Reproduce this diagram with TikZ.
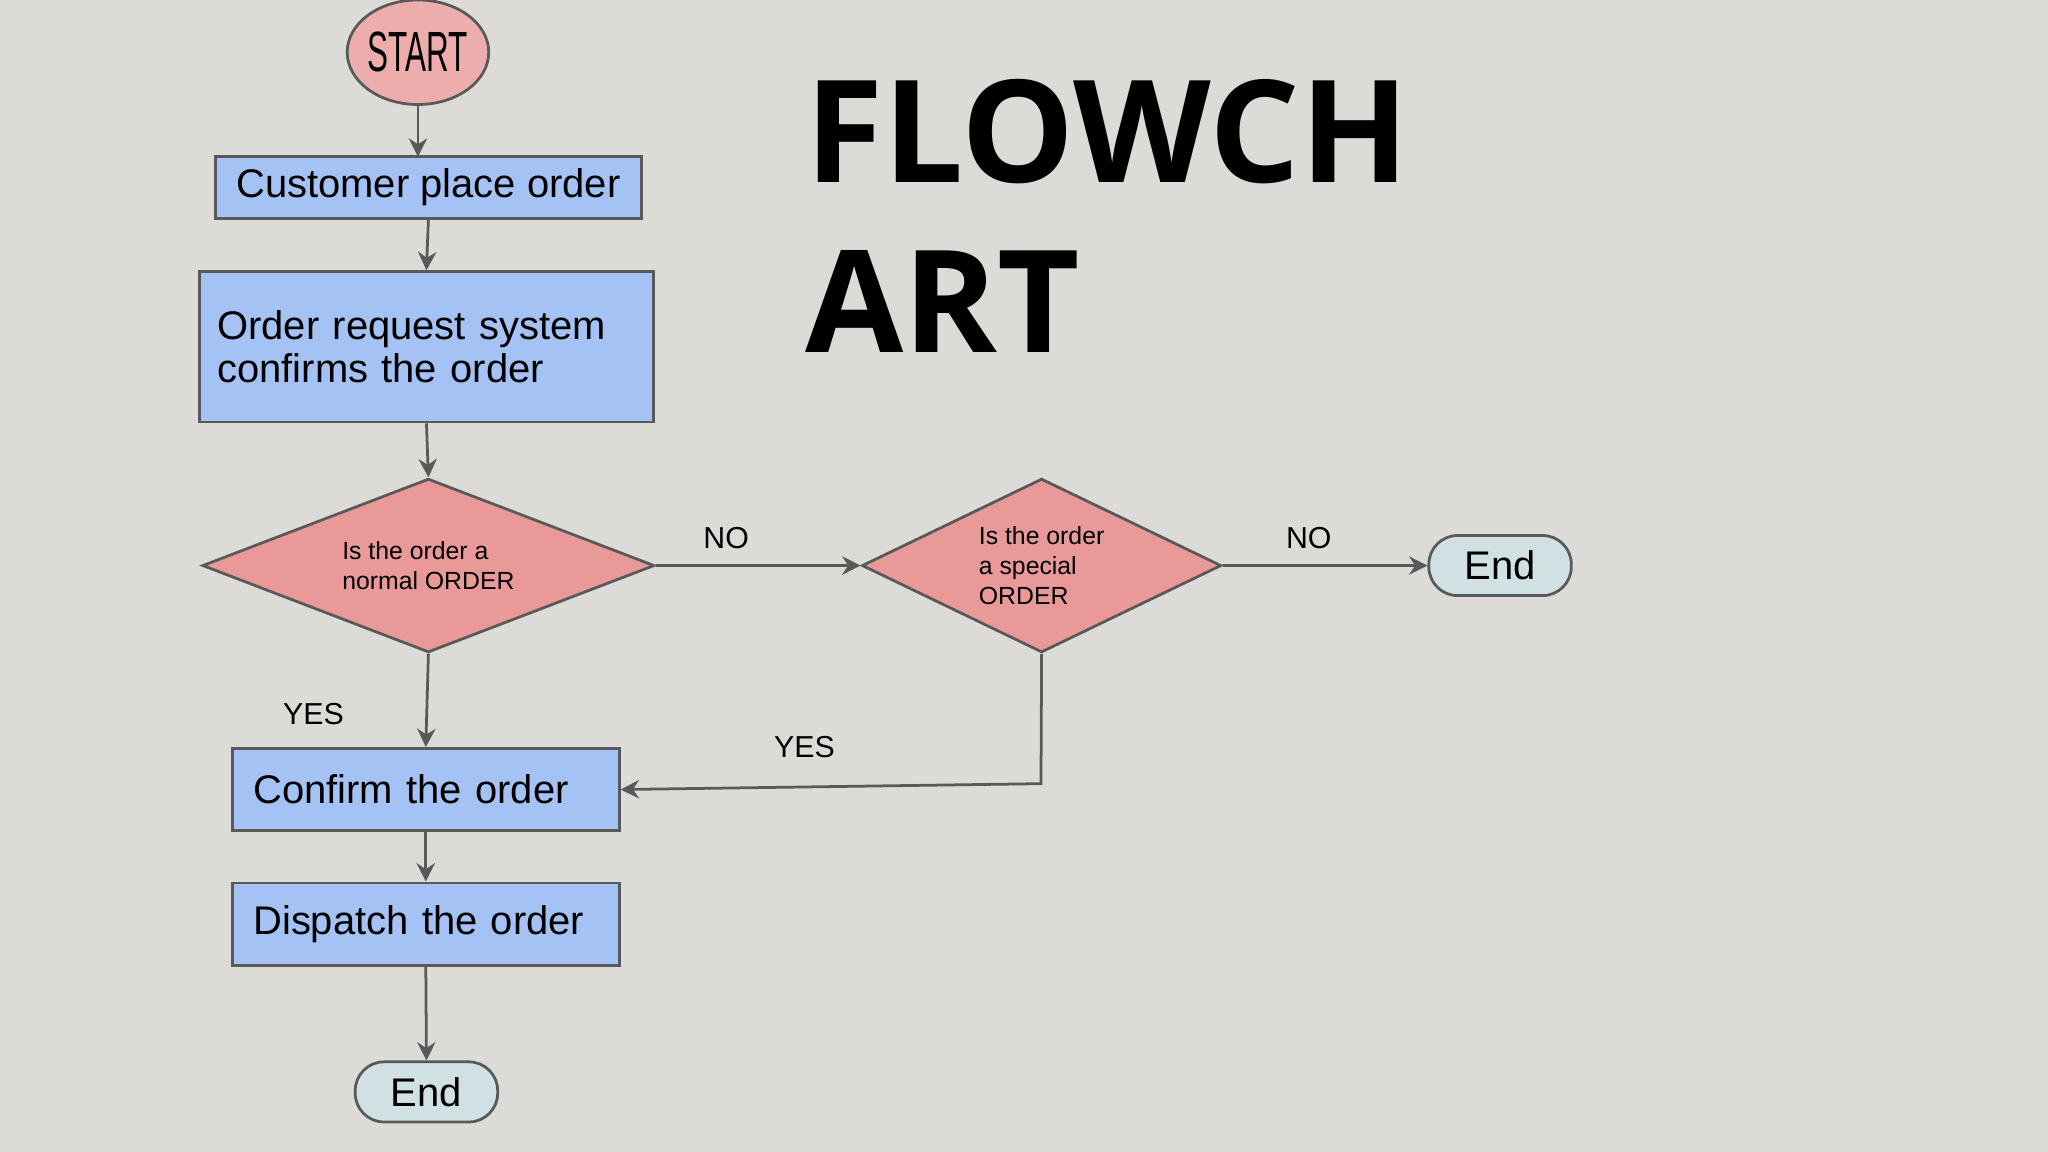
\documentclass[tikz,border=0pt]{standalone}
\usepackage{fontspec}
\setmainfont{Liberation Sans}
\newfontfamily\titlefont{Open Sans}
\usetikzlibrary{shapes.geometric,arrows.meta}
\definecolor{bg}{HTML}{DCDBD8}
\definecolor{boxblue}{HTML}{A4C2F4}
\definecolor{pinkd}{HTML}{EA9999}
\definecolor{endc}{HTML}{D0E0E3}
\definecolor{ln}{HTML}{595959}
\tikzset{
  proc/.style={draw=ln, fill=boxblue, line width=0.6pt, inner sep=0pt, font=\fontsize{8.7}{10.5}\selectfont},
  dec/.style={diamond, draw=ln, fill=pinkd, line width=0.6pt, inner sep=0pt, font=\fontsize{5.4}{6.6}\selectfont, align=left},
  term/.style={draw=ln, fill=endc, rounded corners=0.22cm, line width=0.6pt, minimum width=1.09cm, minimum height=0.46cm, inner sep=0pt, font=\fontsize{8.7}{10}\selectfont},
  conn/.style={draw=ln, line width=0.6pt, -{Stealth[length=4pt,width=4pt]}},
  lab/.style={font=\fontsize{6.6}{8}\selectfont, text=black}
}
\begin{document}
\begin{tikzpicture}[x=0.01cm,y=-0.01cm]
\fill[bg] (0,0) rectangle (1568,882);
\useasboundingbox (0,0) rectangle (1568,882);
\node[ellipse, draw=ln, fill=pinkd!80!white, line width=0.6pt, minimum width=0.96cm, minimum height=0.8cm, inner sep=0pt, font=\fontsize{9.5}{10}\selectfont] (start) at (320,40) {\scalebox{0.72}[1.3]{START}};
\node[proc, minimum width=3.26cm, minimum height=0.47cm] (cust) at (328,143.5) {Customer place order};
\node[proc, minimum width=3.47cm, minimum height=1.15cm, text width=3.2cm, align=left] (req) at (326.5,265.5) {Order request system\\[-1pt]confirms the order};
\node[dec, aspect=2.6, minimum width=3.46cm, minimum height=1.33cm] (d1) at (328,433) {Is the order a\\normal ORDER};
\node[dec, aspect=2.07, minimum width=2.75cm, minimum height=1.33cm] (d2) at (797.5,433) {Is the order\\a special\\ORDER};
\node[term] (end1) at (1148.5,433) {End};
\node[proc, minimum width=2.96cm, minimum height=0.63cm, text width=2.64cm, align=left] (conf) at (326,604.5) {Confirm the order};
\node[proc, minimum width=2.96cm, minimum height=0.63cm, text width=2.64cm, align=left] (disp) at (326,707.5) {Dispatch the order};
\node[term] (end2) at (326.5,836) {End};
\node[font=\titlefont\bfseries\fontsize{31}{37}\selectfont, align=left, anchor=north west, inner sep=0pt] (title) at (616,60) {FLOWCH\\ART};
\draw[conn] (start.south) -- (320,120);
\draw[conn] (cust.south) -- (req.north);
\draw[conn] (req.south) -- (d1.north);
\draw[conn] (d1.south) -- (conf.north);
\draw[conn] (d1.east) -- (d2.west);
\draw[conn] (d2.east) -- (end1.west);
\draw[conn] (d2.south) -- (797,600) -- (conf.east);
\draw[conn] (conf.south) -- (disp.north);
\draw[conn] (disp.south) -- (end2.north);
\node[lab] (no1) at (556,412) {NO};
\node[lab] (no2) at (1002,412) {NO};
\node[lab] (yes1) at (240,547) {YES};
\node[lab] (yes2) at (616,572) {YES};
\end{tikzpicture}
\end{document}
